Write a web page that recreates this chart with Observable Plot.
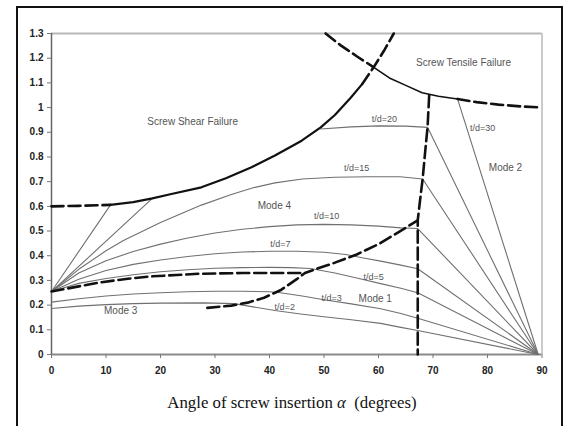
<!DOCTYPE html>
<html>
<head>
<meta charset="utf-8">
<script src="https://cdn.jsdelivr.net/npm/d3@7"></script>
<script src="https://cdn.jsdelivr.net/npm/@observablehq/plot@0.6"></script>
<style>
  body { margin: 0; background: #fff; width: 570px; height: 426px; overflow: hidden; position: relative; }
  #frame { position: absolute; left: 16px; top: 6px; width: 547px; height: 440px; border: 2px solid #111; box-sizing: border-box; }
  #chart { position: absolute; left: 0; top: 0; }
  #xlabel { position: absolute; left: 0; top: 393px; width: 584px; text-align: center;
            font-family: "Liberation Serif", "Times New Roman", serif; font-size: 16.8px; color: #111; }
</style>
</head>
<body>
<div id="frame"></div>
<div id="chart"></div>
<div id="xlabel">Angle of screw insertion <i>α</i>&nbsp;&nbsp;(degrees)</div>
<script>
// ---- tick labels ----
const xTicks = [0, 10, 20, 30, 40, 50, 60, 70, 80, 90];
const yTicks = [0, 0.1, 0.2, 0.3, 0.4, 0.5, 0.6, 0.7, 0.8, 0.9, 1, 1.1, 1.2, 1.3];

// ---- failure boundaries ----
const shearDashLeft  = [[0,0.600],[5,0.602],[10.8,0.606]];
const shearSolid     = [[10.8,0.606],[15,0.617],[18.5,0.632],[22,0.65],[27.5,0.677],[32,0.714],[36.7,0.758],[41,0.806],[45.9,0.866],[49.4,0.92],[52,0.97],[54.9,1.04],[57,1.095]];
const shearDashRight = [[57,1.095],[59.1,1.163],[61,1.23],[62.8,1.30]];
const tensileDashLeft  = [[50.3,1.30],[53,1.253],[56,1.208],[59,1.165]];
const tensileSolid     = [[59,1.165],[62,1.12],[65,1.09],[68,1.06],[71,1.046],[74.5,1.035]];
const tensileDashRight = [[74.5,1.035],[78,1.022],[82,1.012],[86,1.005],[90,1.0]];

// ---- mode boundaries (dashed) ----
const modeVertical  = [[69.3,1.05],[69.0,0.92],[68.6,0.83],[68.1,0.711],[67.6,0.62],[67.2,0.543],[67.2,0]];
const modeRising    = [[28.6,0.189],[33,0.198],[36,0.21],[39,0.23],[42,0.26],[45,0.305],[46.5,0.33],[48,0.342],[52,0.372],[56,0.405],[60,0.447],[64,0.50],[67.2,0.543]];
const modeFlat      = [[0,0.255],[5,0.276],[9,0.292],[14,0.307],[18,0.316],[23,0.322],[27,0.327],[35,0.33],[46.5,0.33]];

// ---- t/d curves ----
const td2   = [[0,0.186],[5,0.196],[10,0.202],[15,0.206],[20,0.208],[28,0.209],[33.5,0.206],[37,0.193],[41,0.178],[45.7,0.164],[50,0.153],[55,0.141],[60.4,0.126],[64.1,0.11],[67.2,0.097],[89.3,0]];
const td3   = [[0,0.212],[5,0.226],[10,0.237],[15,0.245],[20,0.25],[25,0.254],[30,0.256],[35,0.256],[40,0.254],[42,0.25],[46,0.237],[50,0.222],[55,0.205],[60.4,0.185],[64.1,0.166],[67.2,0.147],[89.3,0]];
const td5   = [[0,0.255],[5,0.288],[10,0.308],[15,0.323],[20,0.335],[25,0.343],[30,0.349],[35,0.352],[40,0.353],[44,0.352],[47.5,0.348],[52,0.33],[56,0.31],[60.4,0.287],[64.1,0.268],[67.2,0.25],[89.3,0]];
const td7   = [[0,0.255],[5,0.305],[10,0.34],[15,0.365],[20,0.383],[25,0.397],[30,0.408],[35,0.415],[40,0.418],[45,0.418],[50,0.414],[54,0.405],[57,0.392],[60.4,0.378],[64.1,0.362],[67.2,0.347],[89.3,0]];
const td10  = [[0,0.255],[5,0.33],[10,0.38],[15,0.417],[20,0.447],[25,0.472],[30,0.492],[35,0.507],[40,0.518],[45,0.525],[50,0.527],[55,0.525],[60,0.52],[64.1,0.513],[67.2,0.51],[89.3,0]];
const td15  = [[0,0.255],[5,0.345],[10,0.42],[13.2,0.462],[20,0.535],[27.5,0.605],[33,0.648],[37,0.675],[41,0.695],[46,0.711],[52,0.718],[58,0.72],[64,0.72],[68.1,0.711],[89.3,0]];
const td20a = [[0,0.255],[18.5,0.632]];
const td20b = [[49.4,0.913],[55,0.922],[60,0.926],[65,0.925],[69,0.92],[89.3,0]];
const td30a = [[0,0.255],[10.8,0.605]];
const td30b = [[74.5,1.035],[89.3,0]];

// ---- annotations ----
const labelText = ["Screw Shear Failure","Screw Tensile Failure","t/d=20","t/d=30","Mode 2","t/d=15","Mode 4","t/d=10","t/d=7","t/d=5","t/d=3","Mode 1","t/d=2","Mode 3"];
const labelX    = [25.9, 75.6, 61.1, 79.1, 83.3, 56.0, 40.9, 50.5, 42.0, 59.1, 51.4, 59.4, 42.8, 12.7];
const labelY    = [0.943, 1.182, 0.955, 0.915, 0.757, 0.753, 0.603, 0.559, 0.449, 0.312, 0.227, 0.227, 0.19, 0.178];
const labelSize = [10, 10, 9, 9, 10, 9, 10, 9, 9, 9, 9, 10, 9, 10];

// ---- build tables ----
const toRows = (arr, name) => arr.map(([x, y]) => ({x, y, name}));
const thinSeries = {td2, td3, td5, td7, td10, td15, td20a, td20b, td30a, td30b};
const thinRows = Object.entries(thinSeries).flatMap(([k, v]) => toRows(v, k));
const dashSeries = {shearDashLeft, shearDashRight, tensileDashLeft, tensileDashRight, modeVertical, modeRising, modeFlat};
const dashRows = Object.entries(dashSeries).flatMap(([k, v]) => toRows(v, k));
const labels = labelText.map((t, i) => ({t, x: labelX[i], y: labelY[i], s: labelSize[i]}));
const fmt = d => String(+d.toFixed(1));

const chart = Plot.plot({
  width: 570, height: 385,
  marginLeft: 51, marginRight: 28.5, marginTop: 33, marginBottom: 31,
  style: {fontFamily: "'Liberation Sans', Arial, sans-serif", fontSize: "10px", background: "transparent"},
  x: {domain: [0, 90]},
  y: {domain: [0, 1.3]},
  marks: [
    Plot.ruleY([1.3], {stroke: "#b8b8b8", strokeWidth: 2}),
    Plot.ruleX([90], {stroke: "#b8b8b8", strokeWidth: 1.5}),
    Plot.ruleY([0], {stroke: "#8a8a8a", strokeWidth: 2}),
    Plot.ruleX([0], {stroke: "#666", strokeWidth: 1.5}),
    Plot.axisY({ticks: yTicks, tickFormat: fmt, tickSize: 4, tickPadding: 4, stroke: "#777", fill: "#222", fontWeight: "bold", fontSize: 10, label: null}),
    Plot.axisX({ticks: xTicks, tickFormat: fmt, tickSize: 4, tickPadding: 8, stroke: "#777", fill: "#222", fontWeight: "bold", fontSize: 10, label: null}),
    Plot.line(thinRows, {x: "x", y: "y", z: "name", stroke: "#707070", strokeWidth: 1.1}),
    Plot.line(toRows(shearSolid, "s"), {x: "x", y: "y", stroke: "#111", strokeWidth: 2.2}),
    Plot.line(toRows(tensileSolid, "t"), {x: "x", y: "y", stroke: "#111", strokeWidth: 1.6}),
    Plot.line(dashRows, {x: "x", y: "y", z: "name", stroke: "#111", strokeWidth: 2.6, strokeDasharray: "12,5"}),
    Plot.text(labels, {x: "x", y: "y", text: "t", fontSize: "s", fill: "#555", fontWeight: "normal"})
  ]
});
document.getElementById("chart").appendChild(chart);
</script>
</body>
</html>
